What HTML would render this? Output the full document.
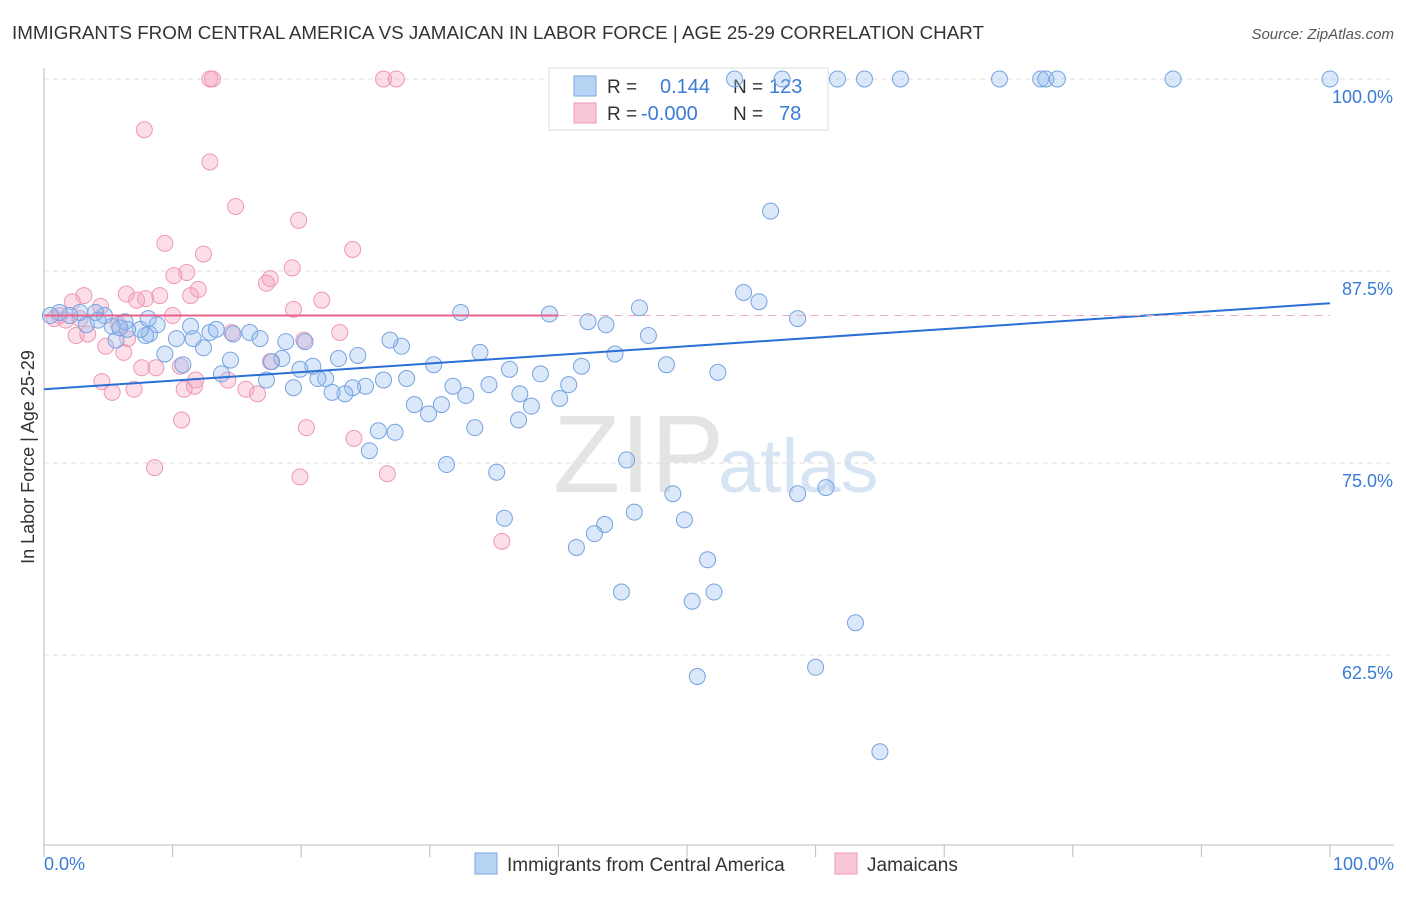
<!DOCTYPE html>
<html><head><meta charset="utf-8">
<style>
body{margin:0;background:#fff;font-family:"Liberation Sans",sans-serif;}
svg text{font-family:"Liberation Sans",sans-serif;}
</style></head>
<body>
<svg id="chart" width="1406" height="892" xmlns="http://www.w3.org/2000/svg">
<text x="12" y="39" font-size="18.8" fill="#333">IMMIGRANTS FROM CENTRAL AMERICA VS JAMAICAN IN LABOR FORCE | AGE 25-29 CORRELATION CHART</text>
<text x="1394" y="39" font-size="15" fill="#555" text-anchor="end" font-style="italic">Source: ZipAtlas.com</text>
<text x="553" y="492" font-size="110" fill="#e4e4e4" font-family="Liberation Serif">ZIP</text>
<text x="718" y="492" font-size="76" fill="#d6e4f4">atlas</text>
<g id="grid"></g>
<g id="axes"></g>
<g>
<rect x="549" y="68" width="279" height="62" fill="#fff" stroke="#ddd"/>
<rect x="574" y="76" width="22" height="20" fill="#b8d4f4" stroke="#7aa7e2"/>
<rect x="574" y="103" width="22" height="20" fill="#f8c8d8" stroke="#ee9ab6"/>
<text x="607" y="93" font-size="19" fill="#333">R =</text>
<text x="660" y="93" font-size="20" fill="#3a7bd5">0.144</text>
<text x="733" y="93" font-size="19" fill="#333">N =</text>
<text x="769" y="93" font-size="20" fill="#3a7bd5">123</text>
<text x="607" y="120" font-size="19" fill="#333">R =</text>
<text x="641" y="120" font-size="20" fill="#3a7bd5">-0.000</text>
<text x="733" y="120" font-size="19" fill="#333">N =</text>
<text x="779" y="120" font-size="20" fill="#3a7bd5">78</text>
</g>
<g id="pts"></g>
<g id="trend"></g>
<g>
<rect x="475" y="853" width="22" height="21" fill="#b8d4f4" stroke="#7aa7e2"/>
<text x="507" y="871" font-size="19" fill="#333">Immigrants from Central America</text>
<rect x="835" y="853" width="22" height="21" fill="#f8c8d8" stroke="#ee9ab6"/>
<text x="867" y="871" font-size="19" fill="#333">Jamaicans</text>
</g>
<text x="44" y="870" font-size="18" fill="#3a7bd5">0.0%</text>
<text x="1394" y="870" font-size="18" fill="#3a7bd5" text-anchor="end">100.0%</text>
<text transform="translate(34,457) rotate(-90)" font-size="18" fill="#333" text-anchor="middle">In Labor Force | Age 25-29</text>
</svg>
<script>
const yTicks=[100,87.5,75,62.5];
const yTickLabels=["100.0%","87.5%","75.0%","62.5%"];
const blueX=[56.5,54.4,55.6,58.6,46.3,47.0,32.4,39.3,42.3,43.7,44.4,48.4,52.4,41.8,38.6,36.2,40.8,40.1,37.9,37.0,34.6,31.8,32.8,30.9,29.9,28.8,28.2,27.8,26.9,26.4,25.0,24.0,24.4,22.9,23.4,22.4,21.9,21.3,20.9,19.9,19.4,18.8,18.5,17.3,16.0,16.8,14.7,14.5,13.8,12.4,12.9,13.4,11.6,10.8,10.3,9.4,8.8,8.2,7.9,7.5,6.5,6.3,5.6,5.3,4.7,4.0,3.3,2.8,2.0,1.2,0.5,33.9,30.3,26.0,27.3,25.3,31.3,35.2,36.9,33.5,45.3,48.9,45.9,43.6,42.8,41.4,35.8,49.8,51.6,44.9,50.4,52.1,60.8,58.6,63.1,60.0,50.8,65.0,17.7,11.4,20.3,4.2,5.9,8.1,53.7,57.4,61.7,63.8,66.6,74.3,77.5,77.9,78.8,87.8,100];
const blueY=[91.4,86.1,85.5,84.4,85.1,83.3,84.8,84.7,84.2,84.0,82.1,81.4,80.9,81.3,80.8,81.1,80.1,79.2,78.7,79.5,80.1,80.0,79.4,78.8,78.2,78.8,80.5,82.6,83.0,80.4,80.0,79.9,82.0,81.8,79.5,79.6,80.5,80.5,81.3,81.1,79.9,82.9,81.8,80.4,83.5,83.1,83.4,81.7,80.8,82.5,83.5,83.7,83.1,81.4,83.1,82.1,84.0,83.4,83.3,83.7,83.7,84.2,83.0,83.9,84.6,84.8,84.0,84.8,84.6,84.8,84.6,82.2,81.4,77.1,77.0,75.8,74.9,74.4,77.8,77.3,75.2,73.0,71.8,71.0,70.4,69.5,71.4,71.3,68.7,66.6,66.0,66.6,73.4,73.0,64.6,61.7,61.1,56.2,81.6,83.9,82.9,84.3,83.8,84.4,100,100,100,100,100,100,100,100,100,100,100];
const pinkX=[7.8,12.9,14.9,19.8,24.0,9.4,12.4,11.1,10.1,19.3,17.6,17.3,12.0,11.4,21.6,9.0,7.9,7.2,6.4,3.1,2.2,4.4,19.4,10.0,14.6,23.0,20.2,5.8,6.5,2.5,3.4,4.8,6.2,7.6,8.7,10.6,17.6,15.7,16.6,11.8,10.9,11.7,4.5,5.3,7.0,14.3,10.7,20.4,24.1,8.6,19.9,26.7,35.6,12.9,13.1,26.4,27.4,1.2,1.7,0.8,2.8];
const pinkY=[96.7,94.6,91.7,90.8,88.9,89.3,88.6,87.4,87.2,87.7,87.0,86.7,86.3,85.9,85.6,85.9,85.7,85.6,86.0,85.9,85.5,85.2,85.0,84.6,83.5,83.5,83.0,84.0,83.1,83.3,83.4,82.6,82.2,81.2,81.2,81.3,81.6,79.8,79.5,80.4,79.8,80.0,80.3,79.6,79.8,80.4,77.8,77.3,76.6,74.7,74.1,74.3,69.9,100,100,100,100,84.6,84.3,84.4,84.4];
const blueTrend=[79.8,85.4];
const pinkTrend=84.6;
const pinkTrendEnd=40;

const NS="http://www.w3.org/2000/svg";
const X0=44,X1=1330,Y100=79,PXPER=15.36;
function sx(v){return X0+(X1-X0)*v/100;}
function sy(v){return Y100+(100-v)*PXPER;}
function mk(tag,attrs,parent){const e=document.createElementNS(NS,tag);for(const k in attrs)e.setAttribute(k,attrs[k]);parent.appendChild(e);return e;}
const grid=document.getElementById('grid'),axes=document.getElementById('axes'),pts=document.getElementById('pts'),tr=document.getElementById('trend');
yTicks.forEach((t,i)=>{
  const l=mk('line',{x1:X0,x2:1394,y1:sy(t),y2:sy(t),stroke:'#ddd','stroke-dasharray':'5,4'},grid);
  
  
  const tx=mk('text',{x:1393,y:sy(t)+24,'font-size':18,fill:'#3a7bd5','text-anchor':'end'},grid);
  tx.textContent=yTickLabels[i];
  
  
});
const xa=mk('line',{x1:X0,x2:1394,y1:845,y2:845,stroke:'#bbb'},axes);


const ya=mk('line',{x1:X0,x2:X0,y1:68,y2:845,stroke:'#bbb'},axes);


for(let i=0;i<=10;i++){
  const t=mk('line',{x1:sx(i*10),x2:sx(i*10),y1:845,y2:857,stroke:'#bbb'},axes);
  
  
}
pinkX.forEach((x,i)=>{
  const c=mk('circle',{cx:sx(x),cy:sy(pinkY[i]),r:8,fill:'rgba(244,160,190,0.35)',stroke:'#ee98b4','stroke-width':1},pts);
  
  
});
blueX.forEach((x,i)=>{
  const c=mk('circle',{cx:sx(x),cy:sy(blueY[i]),r:8,fill:'rgba(150,190,240,0.35)',stroke:'#77a3e0','stroke-width':1},pts);
  
  
});
const bt=mk('line',{x1:sx(0),x2:sx(100),y1:sy(blueTrend[0]),y2:sy(blueTrend[1]),stroke:'#2a6fd6','stroke-width':2},tr);


const pt=mk('line',{x1:sx(0),x2:sx(pinkTrendEnd),y1:sy(pinkTrend),y2:sy(pinkTrend),stroke:'#e8628c','stroke-width':2},tr);


const pd=mk('line',{x1:sx(pinkTrendEnd),x2:sx(100),y1:sy(pinkTrend),y2:sy(pinkTrend),stroke:'#f0a8c0','stroke-width':1,'stroke-dasharray':'8,6'},tr);


</script>
</body></html>
